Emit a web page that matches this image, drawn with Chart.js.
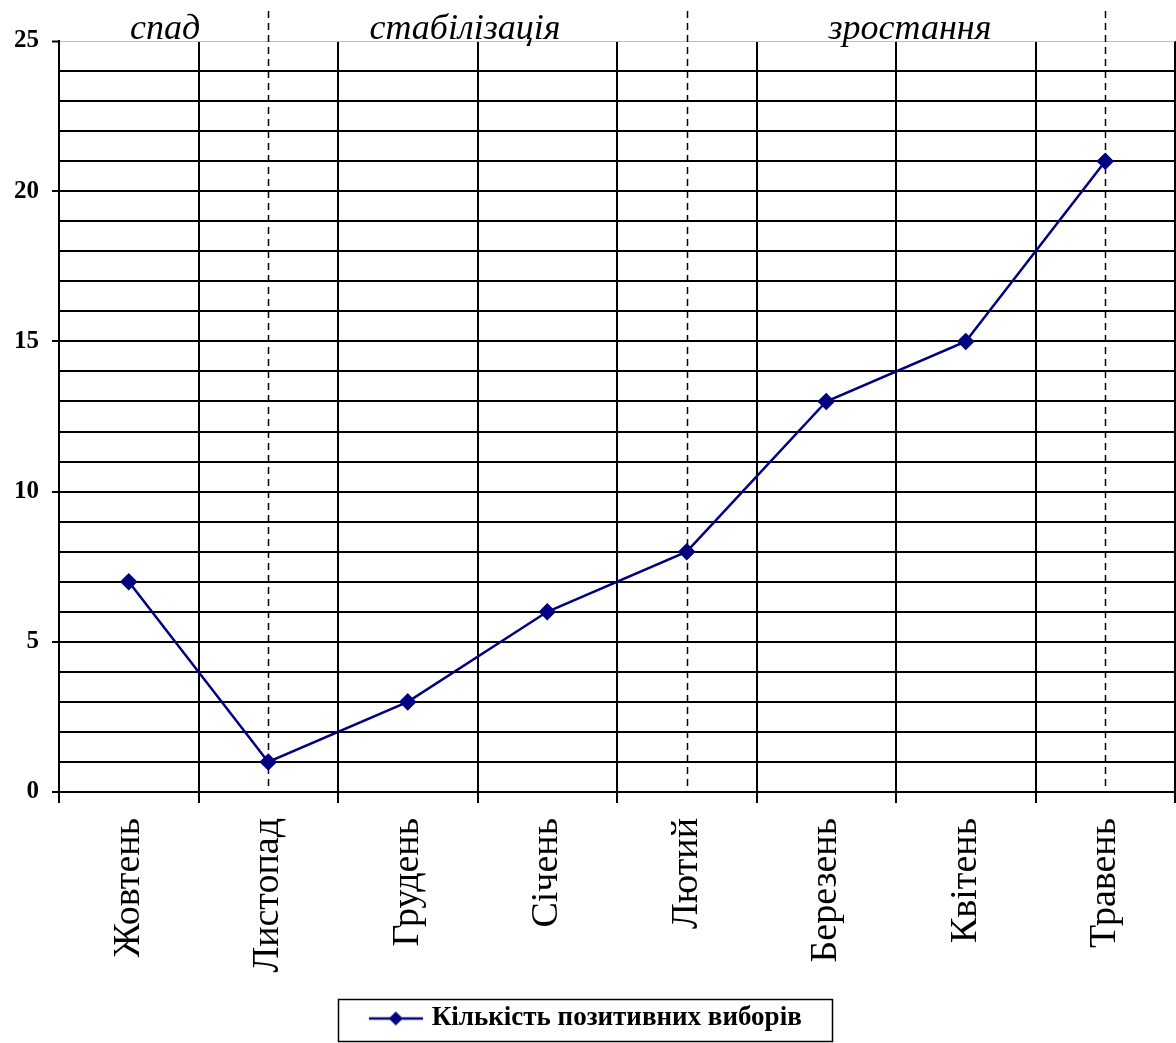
<!DOCTYPE html>
<html>
<head>
<meta charset="utf-8">
<script src="https://cdn.jsdelivr.net/npm/chart.js@4.4.1/dist/chart.umd.min.js"></script>
<style>
  html, body { margin: 0; padding: 0; background: #fff; overflow: hidden; }
  #chart { display: block; }
</style>
</head>
<body>
<canvas id="chart" width="1176" height="1043"></canvas>
<script>
// Monthly counts of positive choices
const months = ['Жовтень', 'Листопад', 'Грудень', 'Січень', 'Лютий', 'Березень', 'Квітень', 'Травень'];
const positiveChoices = [7, 1, 3, 6, 8, 13, 15, 21];
const seriesLabel = 'Кількість позитивних виборів';
const yLabelledTicks = [0, 5, 10, 15, 20, 25];
const phaseNames = ['спад', 'стабілізація', 'зростання'];
const phaseDividerMonths = ['Листопад', 'Лютий', 'Травень'];

const NAVY = '#000080';
const SERIF = '"Liberation Serif", "Times New Roman", serif';

// Legend marker: a short line with a diamond in the middle
const legendMarker = (() => {
  const c = document.createElement('canvas');
  c.width = 54; c.height = 16;
  const g = c.getContext('2d');
  g.strokeStyle = NAVY; g.lineWidth = 2.5;
  g.beginPath(); g.moveTo(0, 8); g.lineTo(54, 8); g.stroke();
  g.fillStyle = NAVY;
  g.beginPath(); g.moveTo(27, 1); g.lineTo(34, 8); g.lineTo(27, 15); g.lineTo(20, 8); g.closePath(); g.fill();
  return c;
})();

// Dashed phase dividers, phase captions and the legend frame
const phasePlugin = {
  id: 'phases',
  beforeDatasetsDraw(chart, args, opts) {
    const { ctx, chartArea, scales: { x } } = chart;
    ctx.save();
    ctx.strokeStyle = '#000';
    ctx.lineWidth = 1.5;
    ctx.setLineDash([7, 5]);
    phaseDividerMonths.forEach(m => {
      const px = Math.round(x.getPixelForValue(months.indexOf(m))) + 0.5;
      ctx.beginPath();
      ctx.moveTo(px, opts.dividerTop);
      ctx.lineTo(px, chartArea.bottom);
      ctx.stroke();
    });
    ctx.restore();
  },
  afterDraw(chart, args, opts) {
    const { ctx, chartArea, scales: { x } } = chart;
    const step = x.getPixelForValue(1) - x.getPixelForValue(0);
    const left = x.getPixelForValue(0) - step / 2;
    ctx.save();
    ctx.font = 'italic 36px ' + SERIF;
    ctx.fillStyle = '#000';
    ctx.textAlign = 'center';
    ctx.textBaseline = 'alphabetic';
    phaseNames.forEach((name, k) => {
      ctx.fillText(name, left + step * opts.captionAt[k], chartArea.top - 2);
    });
    // frame round the legend
    const hb = chart.legend.legendHitBoxes[0];
    if (hb) {
      ctx.strokeStyle = '#000';
      ctx.lineWidth = 1.5;
      const l = Math.round(hb.left - 35) + 0.5;
      const r = Math.round(hb.left + hb.width + 30) + 0.5;
      const t = Math.round(hb.top - 6) + 0.5;
      const b = Math.min(Math.round(hb.top + hb.height + 9) + 0.5, chart.height - 1.5);
      ctx.strokeRect(l, t, r - l, b - t);
    }
    ctx.restore();
  }
};

new Chart(document.getElementById('chart'), {
  type: 'line',
  data: {
    labels: months,
    datasets: [{
      label: seriesLabel,
      data: positiveChoices,
      borderColor: NAVY,
      backgroundColor: NAVY,
      borderWidth: 2.5,
      pointStyle: 'rectRot',
      pointRadius: 7,
      pointHoverRadius: 7,
      pointBackgroundColor: NAVY,
      pointBorderColor: NAVY,
      tension: 0
    }]
  },
  options: {
    responsive: false,
    animation: false,
    events: [],
    layout: { autoPadding: false, padding: { top: 41, right: 1, left: 0, bottom: 1 } },
    scales: {
      x: {
        offset: true,
        grid: {
          offset: true,
          color: ctx => ctx.index === months.length ? '#c0c0c0' : '#000',
          lineWidth: ctx => ctx.index === months.length ? 1 : 2,
          tickLength: 11,
          tickColor: '#000',
          tickWidth: 2
        },
        border: { display: true, color: '#000', width: 2 },
        ticks: {
          color: '#000',
          font: { family: SERIF, size: 38 },
          minRotation: 90,
          maxRotation: 90,
          padding: 15,
          autoSkip: false
        },
        afterFit: s => { s.height = 205; s.paddingLeft = 0; s.paddingRight = 0; }
      },
      y: {
        min: 0,
        max: 25,
        grid: {
          color: ctx => ctx.tick && ctx.tick.value === 25 ? '#c0c0c0' : '#000',
          lineWidth: ctx => ctx.tick && ctx.tick.value === 25 ? 1 : 2,
          tickLength: 7,
          tickColor: ctx => yLabelledTicks.includes(ctx.tick.value) ? '#000' : 'rgba(0,0,0,0)',
          tickWidth: 2
        },
        border: { display: true, color: '#000', width: 2 },
        ticks: {
          stepSize: 1,
          autoSkip: false,
          color: '#000',
          padding: 13,
          font: { family: SERIF, size: 25, weight: 'bold' },
          callback: v => yLabelledTicks.includes(v) ? String(v) : ''
        },
        afterFit: s => { s.width = 59; s.paddingTop = 0; s.paddingBottom = 0; }
      }
    },
    plugins: {
      tooltip: { enabled: false },
      legend: {
        position: 'bottom',
        labels: {
          color: '#000',
          font: { family: SERIF, size: 27, weight: 'bold' },
          usePointStyle: true,
          pointStyleWidth: 45,
          padding: 8,
          generateLabels: chart => {
            const items = Chart.defaults.plugins.legend.labels.generateLabels(chart);
            items.forEach(it => { it.pointStyle = legendMarker; });
            return items;
          }
        }
      },
      phases: { dividerTop: 11, captionAt: [0.76, 2.91, 6.1] }
    }
  },
  plugins: [phasePlugin]
});
</script>
</body>
</html>
